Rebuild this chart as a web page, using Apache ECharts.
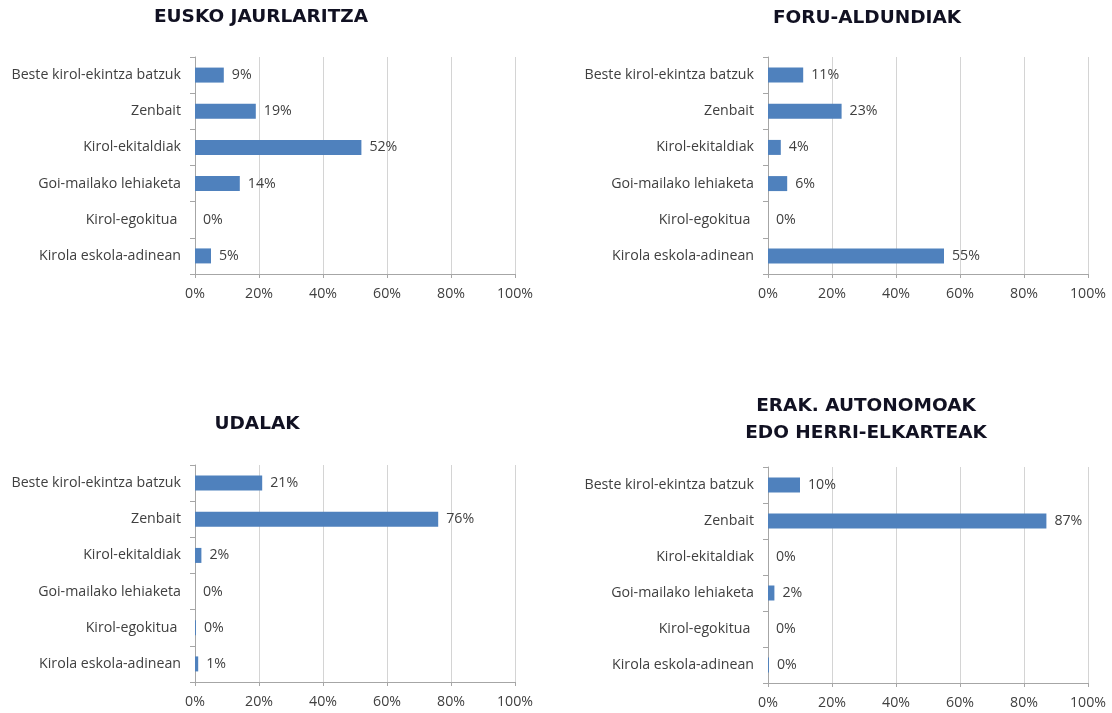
<!DOCTYPE html>
<html lang="eu">
<head>
	<meta charset="UTF-8">
	<title>Kirol-ekintzak</title>
	<style>
		html, body { margin: 0; padding: 0; background: #fff; }
		#main { width: 1112px; height: 713px; }
	</style>
</head>
<body>
	<div id="main"></div>
	<script src="https://cdn.jsdelivr.net/npm/echarts@6/dist/echarts.min.js"></script>
	<script>
	// kategoriak, goitik behera
	var categories = [
		'Beste kirol-ekintza batzuk',
		'Zenbait',
		'Kirol-ekitaldiak',
		'Goi-mailako lehiaketa',
		'Kirol-egokitua ',
		'Kirola eskola-adinean'
	];
	var titles = ['EUSKO JAURLARITZA', 'FORU-ALDUNDIAK', 'UDALAK', 'ERAK. AUTONOMOAK\nEDO HERRI-ELKARTEAK'];
	// ehunekoak
	var euskoJaurlaritza = [9, 19, 52, 14, 0, 5];
	var foruAldundiak = [11, 23, 4, 6, 0, 55];
	var udalak = [21, 76, 2, 0, 0.3, 1];
	var erakAutonomoak = [10, 87, 0, 2, 0, 0.3];

	var seriesData = [euskoJaurlaritza, foruAldundiak, udalak, erakAutonomoak];

	var textColor = '#404040';
	var font = 'Open Sans';
	var fontSize = 14.2;

	// panel positions
	var grids = [
		{ left: 195, top: 57, width: 320, height: 217 },
		{ left: 768, top: 57, width: 320, height: 217 },
		{ left: 195, top: 465, width: 320, height: 217 },
		{ left: 768, top: 467, width: 320, height: 216 }
	];
	var titlePos = [[261, 17], [867, 18], [257, 424], [866, 420]];

	var myChart = echarts.init(document.getElementById('main'));

	var option = {
		animation: false,
		grid: grids,
		graphic: titles.map(function (t, i) {
			return {
				type: 'text',
				x: titlePos[i][0],
				y: titlePos[i][1],
				style: {
					text: t,
					fill: '#111122',
					font: 'bold 18.5px "DejaVu Sans"',
					lineHeight: 27,
					textAlign: 'center',
					textVerticalAlign: 'middle',
					shadowColor: 'rgba(235,150,50,0.85)',
					shadowBlur: 3
				}
			};
		}),
		xAxis: grids.map(function (g, i) {
			return {
				type: 'value',
				gridIndex: i,
				min: 0,
				max: 100,
				interval: 20,
				axisLine: { show: true, lineStyle: { color: '#a6a6a6' } },
				axisTick: { show: true, length: 4, lineStyle: { color: '#a6a6a6' } },
				splitLine: { show: true, lineStyle: { color: '#d4d4d4' } },
				axisLabel: {
					formatter: '{value}%',
					color: textColor,
					fontFamily: font,
					fontSize: fontSize,
					margin: 13
				}
			};
		}),
		yAxis: grids.map(function (g, i) {
			return {
				type: 'category',
				gridIndex: i,
				inverse: true,
				data: categories,
				axisLine: { show: true, lineStyle: { color: '#a6a6a6' } },
				axisTick: { show: true, length: 5, lineStyle: { color: '#a6a6a6' } },
				axisLabel: {
					color: textColor,
					fontFamily: font,
					fontSize: fontSize,
					margin: 14
				}
			};
		}),
		series: seriesData.map(function (d, i) {
			return {
				type: 'bar',
				xAxisIndex: i,
				yAxisIndex: i,
				data: d,
				barWidth: 15,
				itemStyle: { color: '#4f81bd' },
				label: {
					show: true,
					position: 'right',
					distance: 8,
					color: textColor,
					fontFamily: font,
					fontSize: fontSize,
					formatter: function (p) { return Math.round(p.value) + '%'; }
				}
			};
		})
	};
	myChart.setOption(option);
	</script>
</body>
</html>
